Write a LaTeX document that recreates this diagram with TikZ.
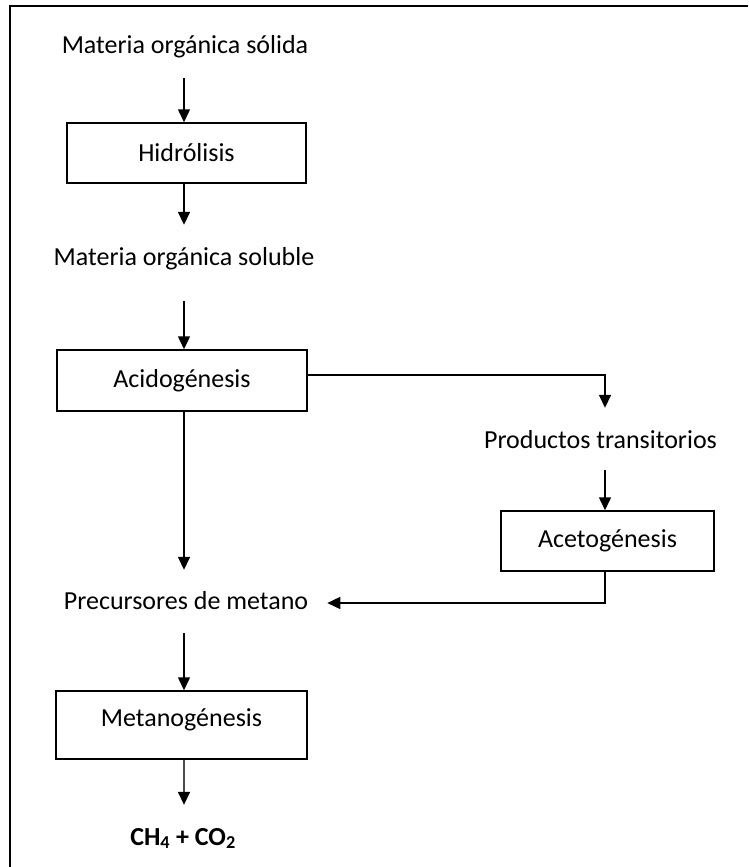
\documentclass[tikz,border=0pt]{standalone}
\usepackage{fontspec}
\setmainfont{Carlito}
\usetikzlibrary{arrows.meta,calc}
\begin{document}
\begin{tikzpicture}[x=1pt,y=-1pt,
  lbl/.style={inner sep=0pt,text height=17pt,text depth=5pt,anchor=base,font=\fontsize{26}{30}\selectfont},
  stage/.style={draw,line width=1.5pt,inner sep=0pt,font=\fontsize{26}{30}\selectfont},
  arr/.style={line width=1.5pt,-{Triangle[length=13pt,width=12pt]}},
  greyarr/.style={line width=1.5pt,draw=black!70,-{Triangle[length=13pt,width=12pt,color=black]}},
  frame/.style={line width=1.8pt}]
\useasboundingbox (0,0) rectangle (748,867);
\draw[frame] (10,867) -- (10,6) -- (748,6);
\coordinate (col) at (184,0);
\coordinate (col2) at (605,0);
% nodes
\node[lbl] (t1) at (185,53) {Materia orgánica sólida};
\node[stage,minimum width=239pt,minimum height=60pt] (h) at (186.5,153) {Hidrólisis};
\node[lbl] (t2) at (184,265) {Materia orgánica soluble};
\node[stage,minimum width=250pt,minimum height=61pt] (a) at (182,380.5) {Acidogénesis};
\node[lbl] (t3) at (600.5,448) {Productos transitorios};
\node[stage,minimum width=213pt,minimum height=60pt] (c) at (607.5,541) {Acetogénesis};
\node[lbl] (t4) at (186,609) {Precursores de metano};
\node[stage,minimum width=251pt,minimum height=68pt,text height=17pt,text depth=14pt] (m) at (181.5,725) {Metanogénesis};
\node[lbl] (t5) at (183,845) {\bfseries CH\textsubscript{4} + CO\textsubscript{2}};
% connectors
\draw[arr] ($(col |- t1.south)+(0,20)$) -- (col |- h.north);
\draw[arr] (col |- h.south) -- ($(col |- t2.north)+(0,-23)$);
\draw[arr] ($(col |- t2.south)+(0,31)$) -- (col |- a.north);
\draw[arr] ($(a.east)+(0,-5.5)$) -| ($(col2 |- t3.north)+(0,-23)$);
\draw[arr] ($(col2 |- t3.south)+(0,17)$) -- (col2 |- c.north);
\draw[arr] (col2 |- c.south) |- ($(t4.east)+(19,0)$);
\draw[arr] (col |- a.south) -- ($(col |- t4.north)+(0,-22)$);
\draw[arr] ($(col |- t4.south)+(0,19)$) -- (col |- m.north);
\draw[greyarr] (col |- m.south) -- ($(col |- t5.north)+(0,-23)$);
\end{tikzpicture}
\end{document}
